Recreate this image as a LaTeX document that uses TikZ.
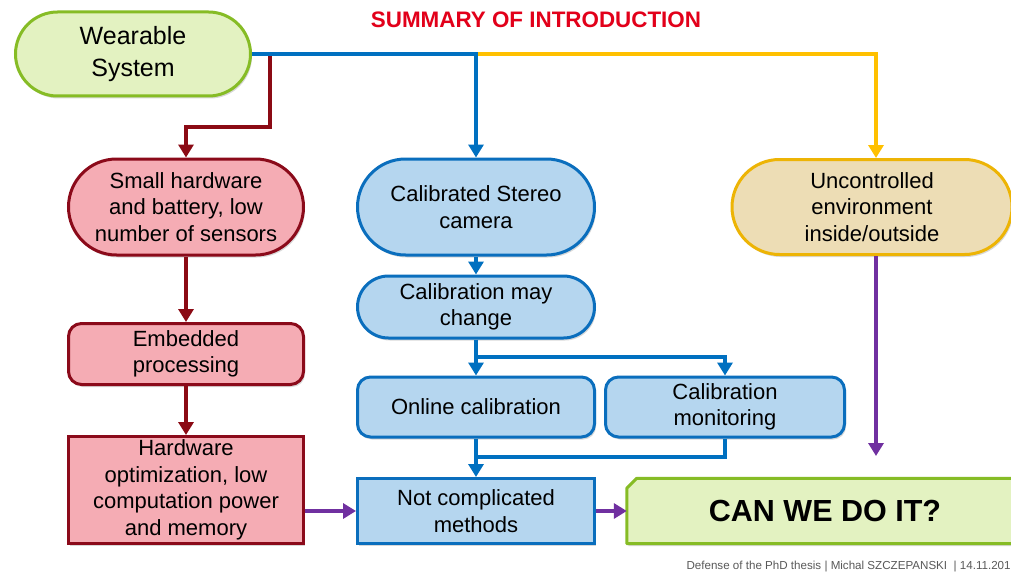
\documentclass[tikz,border=0pt]{standalone}
\usepackage{fontspec}
\setmainfont{Liberation Sans}
\usetikzlibrary{shapes.misc,arrows.meta,shadows}

\definecolor{grfill}{HTML}{E3F2C1}
\definecolor{grline}{HTML}{86BC25}
\definecolor{pkfill}{HTML}{F5ACB4}
\definecolor{pkline}{HTML}{8B0A1A}
\definecolor{blfill}{HTML}{B5D6EF}
\definecolor{blline}{HTML}{0A6EBD}
\definecolor{befill}{HTML}{EDDDB5}
\definecolor{beline}{HTML}{EDB405}
\definecolor{cred}{HTML}{8B0A14}
\definecolor{cblue}{HTML}{0070C0}
\definecolor{cyellow}{HTML}{FFC000}
\definecolor{cpurple}{HTML}{7030A0}
\definecolor{titlered}{HTML}{E2001A}

\pgfdeclarelayer{background}
\pgfsetlayers{background,main}

\begin{document}
\begin{tikzpicture}[x=1pt,y=-1pt,
  boxshadow/.style={drop shadow={opacity=0.3, shadow xshift=1.5pt, shadow yshift=-2.5pt}},
  box/.style={draw, line width=3pt, align=center, inner sep=0pt,
    font=\fontsize{22}{26.5}\selectfont, boxshadow},
  stadium/.style={box, rounded rectangle},
  rbox/.style={box, rectangle, rounded corners=13pt},
  sbox/.style={box, rectangle},
  greenbox/.style={fill=grfill, draw=grline},
  pinkbox/.style={fill=pkfill, draw=pkline},
  bluebox/.style={fill=blfill, draw=blline},
  beigebox/.style={fill=befill, draw=beline},
  conn/.style={line width=4.5pt, -{Triangle[width=15pt,length=13pt]}},
  plainconn/.style={line width=4.5pt},
]
\useasboundingbox (0,0) rectangle (1011,575);
\clip (0,0) rectangle (1011,575);
\begin{pgfonlayer}{background}
\fill[white] (0,0) rectangle (1011,575);
\end{pgfonlayer}

% title
\node[font=\bfseries\fontsize{22.4}{25}\selectfont, text=titlered] (title) at (536,20) {SUMMARY OF INTRODUCTION};

% boxes
\node[stadium, greenbox, minimum width=235pt, minimum height=84pt,
      font=\fontsize{25}{32}\selectfont] (wear) at (133,54) {Wearable\\System};

\node[stadium, pinkbox, minimum width=235pt, minimum height=96pt] (small) at (186,207)
  {Small hardware\\and battery, low\\number of sensors};
\node[rbox, pinkbox, minimum width=235pt, minimum height=61pt] (embed) at (186,354)
  {Embedded\\processing};
\node[sbox, pinkbox, minimum width=235pt, minimum height=107pt] (hwopt) at (186,490)
  {Hardware\\optimization, low\\computation power\\and memory};

\node[stadium, bluebox, minimum width=237pt, minimum height=96pt] (calib) at (476,207)
  {Calibrated Stereo\\camera};
\node[stadium, bluebox, minimum width=237pt, minimum height=62pt] (may) at (476,307)
  {Calibration may\\change};
\node[rbox, bluebox, minimum width=237pt, minimum height=60pt] (online) at (476,407)
  {Online calibration};
\node[rbox, bluebox, minimum width=239pt, minimum height=60pt] (monit) at (725,407)
  {Calibration\\monitoring};
\node[sbox, bluebox, minimum width=237pt, minimum height=65pt] (notc) at (476,511)
  {Not complicated\\methods};

\node[stadium, beigebox, minimum width=280pt, minimum height=95pt] (unc) at (872,207)
  {Uncontrolled\\environment\\inside/outside};

% final box: text node, outline with a cut top-left corner drawn behind it
\node[align=center, inner sep=0pt, minimum width=396pt, minimum height=65pt,
      font=\bfseries\fontsize{30.5}{34}\selectfont] (can) at (825,511) {CAN WE DO IT?};
\begin{pgfonlayer}{background}
\draw[greenbox, line width=3pt, line join=round, boxshadow]
  (can.south west) -- ([yshift=-10pt]can.north west) -- ([xshift=10pt]can.north west)
  -- (can.north east) -- (can.south east) -- cycle;
\end{pgfonlayer}

% connectors from the top node
\coordinate (rk) at (270,127);
\draw[conn, cred] (wear.east -| rk) -- (rk) -| (small.north);
\draw[conn, cyellow] (calib.north |- wear.east) -| ([xshift=4pt]unc.north);
\draw[conn, cblue] (wear.east) -| (calib.north);

% left column
\draw[conn, cred] (small.south) -- (embed.north);
\draw[conn, cred] (embed.south) -- (hwopt.north);

% middle column
\draw[conn, cblue] (calib.south) -- (may.north);
\coordinate (split) at (476,357);
\draw[conn, cblue] (may.south) -- (online.north);
\draw[conn, cblue] (split) -| (monit.north);
\coordinate (join) at (476,457);
\draw[plainconn, cblue] (monit.south) |- (join);
\draw[conn, cblue] (online.south) -- (notc.north);

% purple connectors
\draw[conn, cpurple] (hwopt.east |- notc.west) -- (notc.west);
\draw[conn, cpurple] (notc.east) -- (can.west);
\coordinate (pend) at (876,456);
\draw[conn, cpurple] ([xshift=4pt]unc.south) -- (pend);

% footer
\node[anchor=west, text=black!65, font=\fontsize{11.6}{13}\selectfont] (foot) at (683,567)
  {Defense of the PhD thesis | Michal SZCZEPANSKI \ | 14.11.2019};
\end{tikzpicture}
\end{document}
